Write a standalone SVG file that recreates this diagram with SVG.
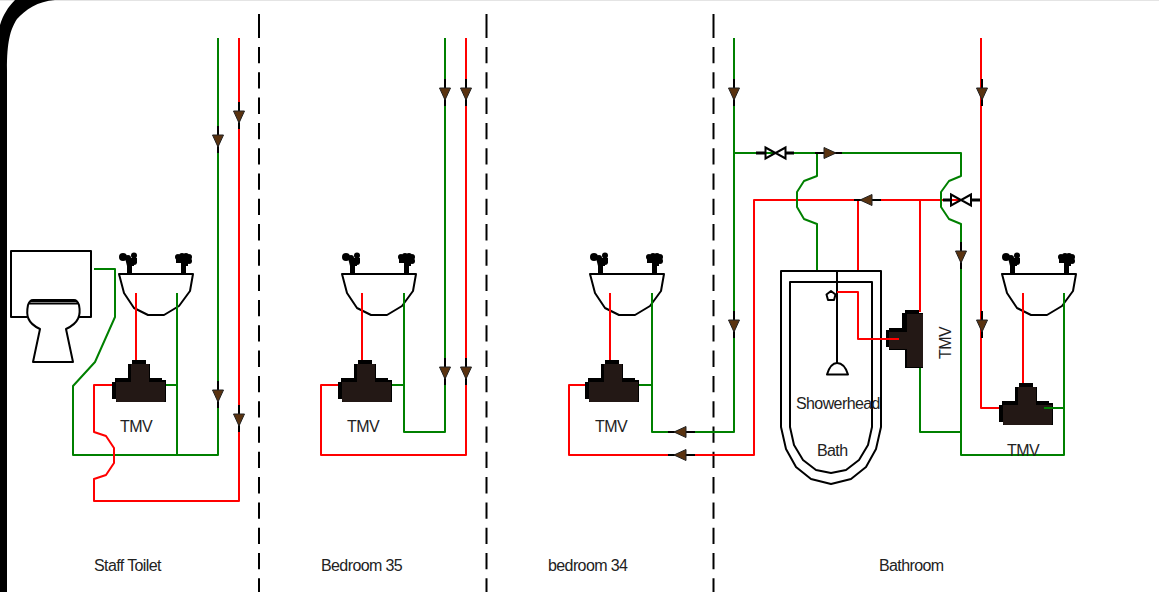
<svg xmlns="http://www.w3.org/2000/svg" xmlns:xlink="http://www.w3.org/1999/xlink" width="1159" height="592" viewBox="0 0 1159 592">
<style>
.g{fill:none;stroke:#008000;stroke-width:2;stroke-linejoin:round}
.r{fill:none;stroke:#ff0000;stroke-width:2;stroke-linejoin:round}
.k{fill:none;stroke:#000;stroke-width:2;stroke-linejoin:round}
.d{fill:none;stroke:#000;stroke-width:2;stroke-dasharray:16.300 9}
.t{font-family:"Liberation Sans",Arial,sans-serif;font-size:16px;letter-spacing:-.6px;fill:#222}
.tb{fill:#231815}
</style>
<defs>
<g id="arrow"><path d="M-15 0H12" stroke="#000" stroke-width="2"/><path d="M-6-5.500L6 0L-6 5.500Z" fill="#5a3310" stroke="#222" stroke-width="1"/></g>
<g id="basin">
<path class="k" d="M0 22H74L71 39L60 54L45 63H29L15 56L5 41Z" fill="#fff"/>
<g fill="#000">
<path d="M8 12H13V22H8Z"/><circle cx="4" cy="5" r="4"/><circle cx="9" cy="6" r="3"/><circle cx="15" cy="3.500" r="3"/><circle cx="15" cy="10" r="3"/><path d="M6 6H18V11H15V14H8Z"/>
<path d="M62 12H67V22H62Z"/><circle cx="59" cy="5" r="3"/><circle cx="63" cy="4" r="3"/><circle cx="67" cy="4" r="3"/><circle cx="70" cy="5" r="3"/><circle cx="70" cy="9" r="3"/><path d="M57 6H72V10H69V14H62V11H57Z"/>
</g>
</g>
<g id="tee">
<path fill="#000" d="M2 17H15V3H19V-1H33V3H37V17H49V19H53V41H3V38H-1V21H2Z"/>
<path class="tb" d="M3 21H18V3H36V21H52V40L51 41H4L3 40Z"/>
</g>
<path id="bow" d="M-10-5.500L0 0L-10 5.500ZM10-5.500L0 0L10 5.500Z"/>
</defs>
<rect width="1159" height="592" fill="#fff"/>
<path d="M0 0.500H1159" stroke="#e4e4e4" stroke-width="1"/>
<path d="M0 25C3 15 8 7 15 0H55C38 1 25 10 17 19 10 30 7 42 7 70V592H0Z" fill="#000"/>
<g id="dividers">
<path d="M259 14V38M486.500 14V38M713.500 14V38" stroke="#000" stroke-width="2"/>
<path class="d" d="M259 47V592M486.500 47V592M713.500 47V592"/>
</g>
<g id="toilet">
<path class="k" d="M27 317H11V251H91V317H79"/>
<path class="k" d="M30 301H77M29 303.500H78M28 305C26 315 27 323 40 329L33 362H73L66 329C79 323 81 315 79 305 78 302 76 300 74 300H33C31 300 29 302 28 305Z"/>
</g>
<g id="basin-staff"><use xlink:href="#basin" href="#basin" x="119" y="252"/></g>
<g id="basin-35"><use xlink:href="#basin" href="#basin" x="342" y="252"/></g>
<g id="basin-34"><use xlink:href="#basin" href="#basin" x="590" y="252"/></g>
<g id="basin-bathroom"><use xlink:href="#basin" href="#basin" x="1002" y="252"/></g>
<g id="bath">
<path class="k" d="M781 271H881V427L876 449L866 467L851 479L831 484L811 479L796 467L786 449L781 427Z"/>
<path class="k" d="M790 282H872V427L868 445L859 460L846 470L831 473L816 470L803 460L794 445L790 427Z"/>
<path class="k" d="M837 270V363M827 374.500H848C846 368 842 363 837 363 832 363 829 368 827 374.500Z"/>
<path class="k" d="M831 291L835.500 294.500L834 300H828L826.500 294.500Z"/>
</g>
<g id="connectors">
<path class="g" d="M94 269H115V317L95 362L73 386V455H218V38M177 293V455M165 385H177"/>
<path class="r" d="M136 293V361M113 385H94V432L106 436L114 448V463L106 475L94 479V501H239V38"/>
<path class="g" d="M404 293V432H445V38M391 385H404"/>
<path class="r" d="M362 293V361M340 385H321V455H466V38"/>
<path class="g" d="M652 293V432H734V38M638 385H652"/>
<path class="r" d="M610 293V361M587 385H569V455H754V200H981"/>
<path class="g" d="M734 153H961V176L949 181L941 192V207L949 219L961 224V455H1064V293M817 153V176L804 181L797 192V207L804 219L817 224V270M920 368V432H961"/>
<path class="r" d="M858 200V270M920 200V312M981 38V408H1002M1023 293V384M837 292H858V339H899"/>
<use xlink:href="#arrow" href="#arrow" transform="translate(218 141) rotate(90)"/>
<use xlink:href="#arrow" href="#arrow" transform="translate(218 396) rotate(90)"/>
<use xlink:href="#arrow" href="#arrow" transform="translate(239 117) rotate(90)"/>
<use xlink:href="#arrow" href="#arrow" transform="translate(239 420) rotate(90)"/>
<use xlink:href="#arrow" href="#arrow" transform="translate(445 94) rotate(90)"/>
<use xlink:href="#arrow" href="#arrow" transform="translate(445 373) rotate(90)"/>
<use xlink:href="#arrow" href="#arrow" transform="translate(466 94) rotate(90)"/>
<use xlink:href="#arrow" href="#arrow" transform="translate(466 373) rotate(90)"/>
<use xlink:href="#arrow" href="#arrow" transform="translate(734 94) rotate(90)"/>
<use xlink:href="#arrow" href="#arrow" transform="translate(734 326) rotate(90)"/>
<use xlink:href="#arrow" href="#arrow" transform="translate(982 94) rotate(90)"/>
<use xlink:href="#arrow" href="#arrow" transform="translate(982 326) rotate(90)"/>
<use xlink:href="#arrow" href="#arrow" transform="translate(961 257) rotate(90)"/>
<use xlink:href="#arrow" href="#arrow" transform="translate(680 432) rotate(180)"/>
<use xlink:href="#arrow" href="#arrow" transform="translate(680 455) rotate(180)"/>
<use xlink:href="#arrow" href="#arrow" transform="translate(866 200) rotate(180)"/>
<use xlink:href="#arrow" href="#arrow" transform="translate(830 153)"/>
</g>
<g id="valve-cold">
<path d="M756 153H765M786 153H794" stroke="#000" stroke-width="3"/>
<path d="M785.500 147.500L775.500 153L785.500 158.500Z" fill="#fff"/>
<use xlink:href="#bow" href="#bow" x="775.500" y="153" fill="none" stroke="#000" stroke-width="2"/>
</g>
<g id="valve-hot">
<path d="M943 200H951M971 200H980" stroke="#000" stroke-width="3"/>
<path d="M971 194.500L961 200L971 205.500Z" fill="#fff"/>
<use xlink:href="#bow" href="#bow" x="961" y="200" fill="none" stroke="#000" stroke-width="2"/>
</g>
<g id="tmv-staff"><use xlink:href="#tee" href="#tee" x="113" y="361"/><text class="t" x="120" y="432">TMV</text></g>
<g id="tmv-35"><use xlink:href="#tee" href="#tee" x="339" y="361"/><text class="t" x="347" y="432">TMV</text></g>
<g id="tmv-34"><use xlink:href="#tee" href="#tee" x="586" y="361"/><text class="t" x="595" y="432">TMV</text></g>
<g id="tmv-bathroom"><use xlink:href="#tee" href="#tee" x="1000" y="384"/><text class="t" x="1007" y="456">TMV</text>
<path class="g" d="M1044 408H1064"/></g>
<g id="tmv-bath">
<path fill="#000" d="M886 347V330H889V328H902V313H905V310H919V313H923V368H905V350H889V347Z"/>
<path class="tb" d="M889 349V332H907V314H923V367H907V349Z"/>
<path class="r" d="M858 339H899"/>
<text class="t" transform="translate(951 359) rotate(-90)">TMV</text>
</g>
<g id="labels">
<text class="t" x="796" y="409">Showerhead</text>
<text class="t" x="817" y="456">Bath</text>
<text class="t" x="94" y="571">Staff Toilet</text>
<text class="t" x="321" y="571">Bedroom 35</text>
<text class="t" x="548" y="571">bedroom 34</text>
<text class="t" x="879" y="571">Bathroom</text>
</g>
</svg>
